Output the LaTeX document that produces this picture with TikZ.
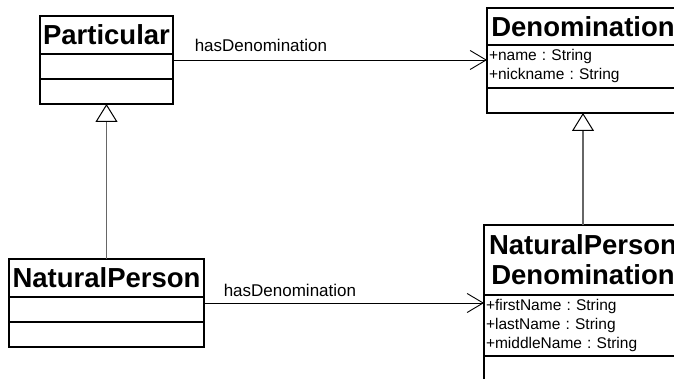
\documentclass[tikz,border=0pt]{standalone}
\usepackage{fontspec}
\setmainfont{Liberation Sans}
\usetikzlibrary{positioning,arrows.meta}
\frenchspacing

\begin{document}
\begin{tikzpicture}[x=1pt, y=1pt,
    box/.style={draw, line width=1.3pt, outer sep=0pt, inner sep=2pt},
    title/.style={box, font=\fontsize{27.5}{30}\selectfont\bfseries, align=center},
    attrs/.style={box, font=\fontsize{15.5}{19}\selectfont, align=left},
    assoc/.style={line width=0.9pt, -{Straight Barb[length=16pt, width=19pt, line width=0.9pt]}},
    gen/.style={line width=1.2pt, black!60, -{Triangle[open, length=18pt, width=22pt, line width=1pt, color=black, fill=white]}}]
        \useasboundingbox (0, 0) rectangle (674, 379);
        \clip (0, 0) rectangle (674, 379);
        % classes
        \node[title, minimum width=133, minimum height=38] (part) at (106.5, 344) {Particular};
        \node[attrs, below=0pt of part, minimum width=133, minimum height=25] (partAttr) {};
        \node[attrs, below=0pt of partAttr, minimum width=133, minimum height=25] (partOps) {};
        \node[title, minimum width=192, minimum height=37] (denom) at (583, 352.5) {Denomination};
        \node[attrs, below=0pt of denom, text width=188, minimum height=43] (denomAttr) {+name : String\\+nickname : String};
        \node[attrs, below=0pt of denomAttr, minimum width=192, minimum height=25] (denomOps) {};
        \node[title, minimum width=195, minimum height=38] (np) at (106.5, 101) {NaturalPerson};
        \node[attrs, below=0pt of np, minimum width=195, minimum height=25] (npAttr) {};
        \node[attrs, below=0pt of npAttr, minimum width=195, minimum height=25] (npOps) {};
        \node[title, minimum width=198, minimum height=70] (npd) at (583, 119) {NaturalPerson\\Denomination};
        \node[attrs, below=0pt of npd, text width=194, minimum height=61] (npdAttr) {+firstName : String\\+lastName : String\\+middleName : String};
        \node[attrs, below=0pt of npdAttr, minimum width=198, minimum height=25] (npdOps) {};
        % generalizations
        \draw[gen] (np.north) -- (partOps.south);
        \draw[gen] (npd.north) -- (denomOps.south);
        % associations
        \draw[assoc] ([yshift=6.5pt]partAttr.east) -- ([yshift=6.5pt]denomAttr.west)
            node[pos=0, anchor=west, xshift=18pt, yshift=15pt, font=\fontsize{17}{20}\selectfont] (lblA) {hasDenomination};
        \draw[assoc] ([yshift=6.5pt]npAttr.east) -- ([yshift=22.5pt]npdAttr.west)
            node[pos=0, anchor=west, xshift=16pt, yshift=13pt, font=\fontsize{17}{20}\selectfont] (lblB) {hasDenomination};
    \end{tikzpicture}
\end{document}
